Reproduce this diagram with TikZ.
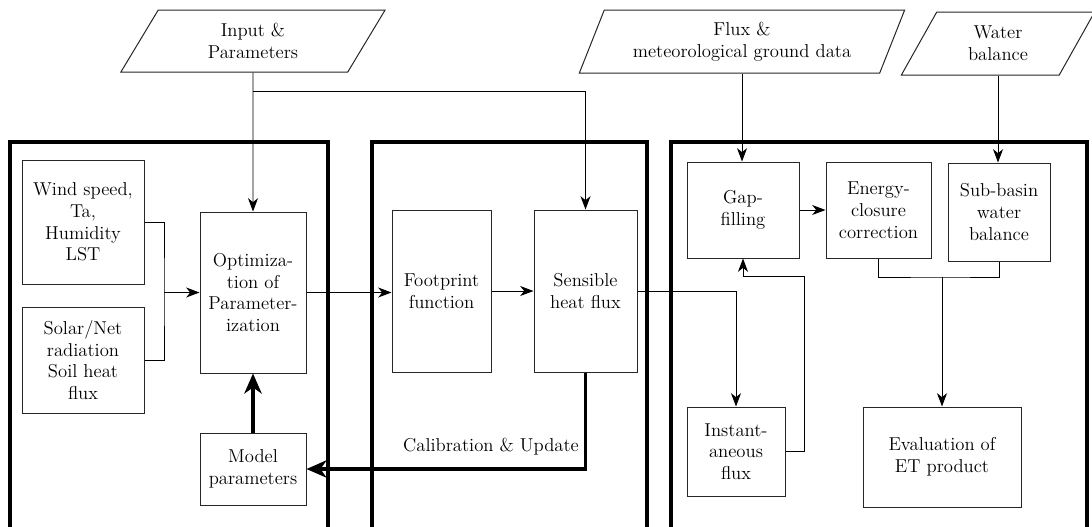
\documentclass[tikz,border=0pt]{standalone}
\usetikzlibrary{arrows.meta,shapes.geometric}

\begin{document}
\begin{tikzpicture}[x=0.75pt,y=0.75pt,yscale=-1,xscale=1,
    txt/.style={font=\fontsize{14}{16.3}\selectfont,align=center,inner sep=0.75pt},
    box/.style={txt,draw=black!85,line width=0.75pt},
    slant/.style={txt,draw=black!85,line width=0.75pt,trapezium,trapezium left angle=64,trapezium right angle=116,trapezium stretches=true},
    panel/.style={line width=3pt},
    arr/.style={line width=0.7pt,-{Stealth[length=10pt,width=7.5pt,inset=3pt]}},
    thickarr/.style={line width=2.4pt,-{Stealth[length=15pt,width=13pt,inset=4.5pt]}}]
    \useasboundingbox (0,0) rectangle (1092,526);
    % panels, open at the bottom
    \draw[panel] (10,540) -- (10,142) -- (328,142) -- (328,540);
    \draw[panel] (372,540) -- (372,142) -- (647,142) -- (647,540);
    \draw[panel] (671,540) -- (671,142) -- (1087,142) -- (1087,540);
    % data sources
    \node[slant,minimum width=199.5pt,minimum height=46.5pt] (inp) at (253,41) {Input \&\\Parameters};
    \node[slant,minimum width=244.5pt,minimum height=47.25pt] (flux) at (742,41.5) {Flux \&\\meteorological ground data};
    \node[slant,minimum width=145.5pt,minimum height=47.25pt] (water) at (998,43.5) {Water\\balance};
    % left panel
    \node[box,minimum width=91.5pt,minimum height=93pt] (wind) at (83,222) {Wind speed,\\Ta,\\Humidity\\LST};
    \node[box,minimum width=91.5pt,minimum height=79.5pt] (solar) at (83,360) {Solar/Net\\radiation\\Soil heat\\flux};
    \node[box,minimum width=79.5pt,minimum height=120.75pt] (opt) at (253,292.5) {Optimiza-\\tion of\\Parameter-\\ization};
    \node[box,minimum width=79.5pt,minimum height=54pt] (model) at (253,469) {Model\\parameters};
    % middle panel
    \node[box,minimum width=74.25pt,minimum height=121.5pt] (foot) at (441.5,291) {Footprint\\function};
    \node[box,minimum width=77.25pt,minimum height=121.5pt] (sens) at (585.5,291) {Sensible\\heat flux};
    \node[txt] (calib) at (491,447) {Calibration \& Update};
    % right panel
    \node[box,minimum width=84pt,minimum height=72pt] (gap) at (743,210) {Gap-\\filling};
    \node[box,minimum width=78.75pt,minimum height=72pt] (energy) at (878.5,210) {Energy-\\closure\\correction};
    \node[box,minimum width=76.5pt,minimum height=73.5pt] (sub) at (999,212) {Sub-basin\\water\\balance};
    \node[box,minimum width=73.5pt,minimum height=66.75pt] (inst) at (736,451.5) {Instant-\\aneous\\flux};
    \node[box,minimum width=118.5pt,minimum height=75pt] (eval) at (942,457) {Evaluation of\\ET product};
    \coordinate (split) at (253,91);
    \coordinate (join) at (164,292.5);
    \coordinate (merge) at (942,277);
    % connectors
    \draw[arr] (inp.south) -- (opt.north);
    \draw[arr] (split) -| (sens.north);
    \draw[line width=0.7pt] (wind.east) -| (join) |- (solar.east);
    \draw[arr] (join) -- (opt.west);
    \draw[arr] (opt.east) -- (opt.east -| foot.west);
    \draw[arr] (foot.east) -- (sens.west);
    \draw[thickarr] (model.north) -- (opt.south);
    \draw[thickarr] (sens.south) |- (model.east);
    \draw[arr] (sens.east) -| (inst.north);
    \draw[arr] (inst.east) -| ++(19,-175) -| (gap.south);
    \draw[arr] (flux.south) -- (flux.south |- gap.north);
    \draw[arr] (water.south) -- (water.south |- sub.north);
    \draw[arr] (gap.east) -- (energy.west);
    \draw[line width=0.7pt] (energy.south) |- (merge) -| (sub.south);
    \draw[arr] (merge) -- (eval.north);
\end{tikzpicture}
\end{document}
